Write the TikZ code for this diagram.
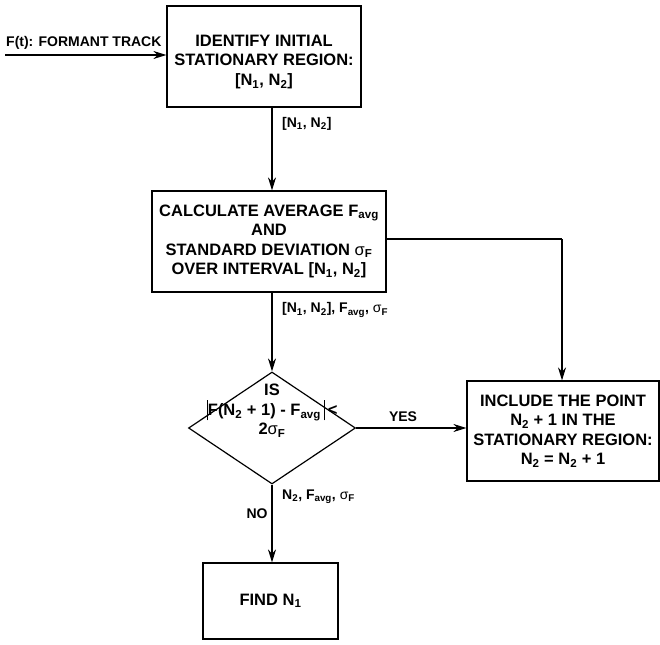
\documentclass[tikz,border=0pt]{standalone}
\usepackage{fontspec}
\setmainfont{Liberation Sans}
\usetikzlibrary{arrows.meta,shapes.geometric}
\newcommand{\sbs}[1]{\textsubscript{#1}}
\newcommand{\sig}{\textmd{σ}}
\newcommand{\vbar}{\rule[-5pt]{1.3pt}{20pt}}
\tikzset{
  box/.style={draw,line width=1.2pt,rectangle,align=center,font=\bfseries\fontsize{16.5}{19.5}\selectfont,inner sep=0pt},
  lbl/.style={font=\bfseries\fontsize{14}{16}\selectfont,inner sep=0pt},
  conn/.style={line width=1.2pt,-{Stealth[length=13pt,width=8pt]}},
  plain/.style={line width=1.2pt}
}
\begin{document}
\begin{tikzpicture}[x=1pt,y=-1pt]
\useasboundingbox (0,0) rectangle (660,644);
\node[box,minimum width=194pt,minimum height=101pt] (b1) at (264,56.5) {};
\node[align=center,font=\bfseries\fontsize{16.5}{19.5}\selectfont,inner sep=0pt] (t1) at (264,62)
  {IDENTIFY INITIAL\\STATIONARY REGION:\\{}[N\sbs{1}, N\sbs{2}]};
\node[box,minimum width=234pt,minimum height=101pt] (b2) at (269,241.5)
  {CALCULATE AVERAGE F\sbs{avg}\\AND\\STANDARD DEVIATION \sig\sbs{F}\\OVER INTERVAL [N\sbs{1}, N\sbs{2}]};
\node[box,draw,diamond,aspect=1.5,minimum width=167pt,minimum height=112pt] (d) at (272,428)
  {};
\node[align=center,font=\bfseries\fontsize{16.5}{19.5}\selectfont,inner sep=0pt] (dt) at (272,411)
  {IS\\\vbar F(N\sbs{2} + 1) - F\sbs{avg}\,\vbar\,<\\2\sig\sbs{F}};
\node[box,minimum width=192pt,minimum height=100pt] (b3) at (563,431)
  {INCLUDE THE POINT\\N\sbs{2} + 1 IN THE\\STATIONARY REGION:\\N\sbs{2} = N\sbs{2} + 1};
\node[box,minimum width=135pt,minimum height=76pt] (b4) at (270.5,601)
  {FIND N\sbs{1}};
% coordinates
\coordinate (in) at (5,55);
\coordinate (c1) at (272,0);
\coordinate (c2) at (562,239);
% connectors
\draw[conn] (in) -- (in -| b1.west);
\node[lbl,anchor=west] (tin) at (6,43) {F(t): FORMANT TRACK};
\draw[conn] (b1.south -| c1) -- (b2.north -| c1);
\node[lbl,anchor=west] (l1) at (282,124) {[N\sbs{1}, N\sbs{2}]};
\draw[conn] (b2.south -| c1) -- (d.north);
\node[lbl,anchor=west] (l2) at (282,310) {[N\sbs{1}, N\sbs{2}], F\sbs{avg}, \sig\sbs{F}};
\draw[plain] (b2.east |- c2) -- (c2);
\draw[conn] (c2) -- (c2 |- b3.north);
\draw[conn] (d.east) -- (b3.west |- d.east);
\node[lbl] (yes) at (403,417) {YES};
\draw[conn] (d.south) -- (b4.north -| d.south);
\node[lbl,anchor=west] (l3) at (282,497) {N\sbs{2}, F\sbs{avg}, \sig\sbs{F}};
\node[lbl] (no) at (257,514) {NO};
\end{tikzpicture}
\end{document}
